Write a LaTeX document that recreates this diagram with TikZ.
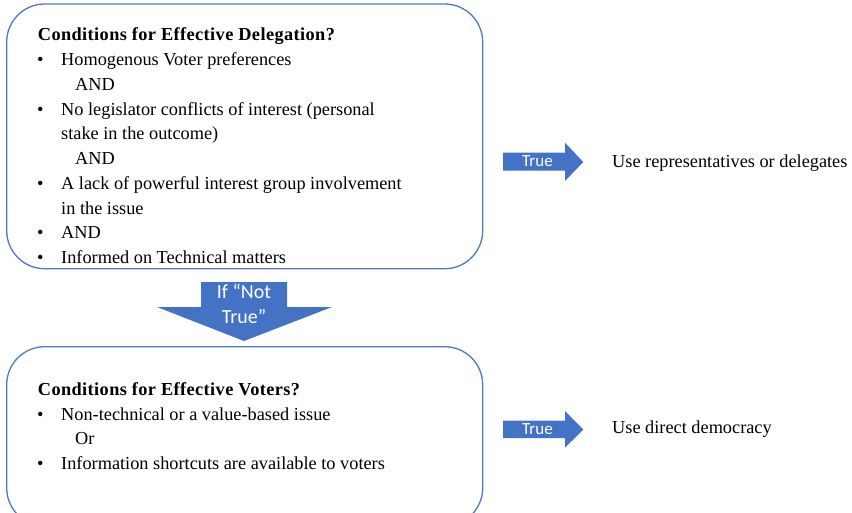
\documentclass[tikz,border=0pt]{standalone}
\usepackage{fontspec}
\setmainfont{Liberation Serif}
\newfontfamily\calibri{Carlito}
\newfontfamily\headfont[LetterSpace=2.2]{Liberation Serif Bold}
\definecolor{boxline}{RGB}{84,118,190}
\definecolor{arrowfill}{RGB}{68,114,196}
\newcommand{\bodyfont}{\fontsize{18.3}{24.75}\selectfont}
\tikzset{
  condbox/.style={draw=boxline, line width=1.3pt, rounded corners=38pt},
  txt/.style={anchor=base west, inner sep=0pt, font=\bodyfont},
  head/.style={anchor=base west, inner sep=0pt, font=\headfont\fontsize{18.3}{24.75}\selectfont},
  bul/.style={anchor=base west, inner sep=0pt, font=\bodyfont},
  arrowshape/.style={fill=arrowfill, draw=none},
  arrowlabel/.style={text=white, inner sep=0pt, font=\calibri\fontsize{17}{25}\selectfont},
  downlabel/.style={text=white, inner sep=0pt, anchor=base, font=\calibri\fontsize{20}{25}\selectfont}
}
\begin{document}
\begin{tikzpicture}[x=1pt,y=-1pt]
\useasboundingbox (0,0) rectangle (852,512);
\clip (0,0) rectangle (852,512);
% boxes
\draw[condbox] (6.7,4) rectangle (482.7,268.7);
\draw[condbox] (6.7,346.7) rectangle (482.7,526);
% box 1 text
\node[head] (h1) at (37.7,40.7) {Conditions for Effective Delegation?};
\node[bul] (b1) at (37,65.5) {\textbullet};
\node[txt] (t1) at (61,65.5) {Homogenous Voter preferences};
\node[txt] (a1) at (75,90.2) {AND};
\node[bul] (b2) at (37,115) {\textbullet};
\node[txt] (t2) at (61,115) {No legislator conflicts of interest (personal};
\node[txt] (t2b) at (61,139.7) {stake in the outcome)};
\node[txt] (a2) at (75,164.5) {AND};
\node[bul] (b3) at (37,189.2) {\textbullet};
\node[txt] (t3) at (61,189.2) {A lack of powerful interest group involvement};
\node[txt] (t3b) at (61,214) {in the issue};
\node[bul] (b4) at (37,238.7) {\textbullet};
\node[txt] (t4) at (61,238.7) {AND};
\node[bul] (b5) at (37,263.4) {\textbullet};
\node[txt] (t5) at (61,263.4) {Informed on Technical matters};
% box 2 text
\node[head] (h2) at (37.7,395) {Conditions for Effective Voters?};
\node[bul] (c1) at (37,420) {\textbullet};
\node[txt] (u1) at (61,420) {Non-technical or a value-based issue};
\node[txt] (o1) at (75,444.7) {Or};
\node[bul] (c2) at (37,469.4) {\textbullet};
\node[txt] (u2) at (61,469.4) {Information shortcuts are available to voters};
% down arrow
\fill[arrowshape] (201,282) -- (287,282) -- (287,307) -- (332,307) -- (244,341)
  -- (157,307) -- (201,307) -- cycle;
\node[downlabel] (d1) at (244,298) {If “Not};
\node[downlabel] (d2) at (244,323) {True”};
% right arrows
\fill[arrowshape] (503,152.5) -- (565,152.5) -- (565,142.7) -- (583.3,162)
  -- (565,181) -- (565,170.5) -- (503,170.5) -- cycle;
\node[arrowlabel] (r1) at (537.5,161.5) {True};
\node[txt] (res1) at (612,167.3) {Use representatives or delegates};
\fill[arrowshape] (503,420.7) -- (565,420.7) -- (565,411) -- (583.3,429.5)
  -- (565,447.7) -- (565,438) -- (503,438) -- cycle;
\node[arrowlabel] (r2) at (537.5,429.5) {True};
\node[txt] (res2) at (612,433.3) {Use direct democracy};
\end{tikzpicture}
\end{document}
